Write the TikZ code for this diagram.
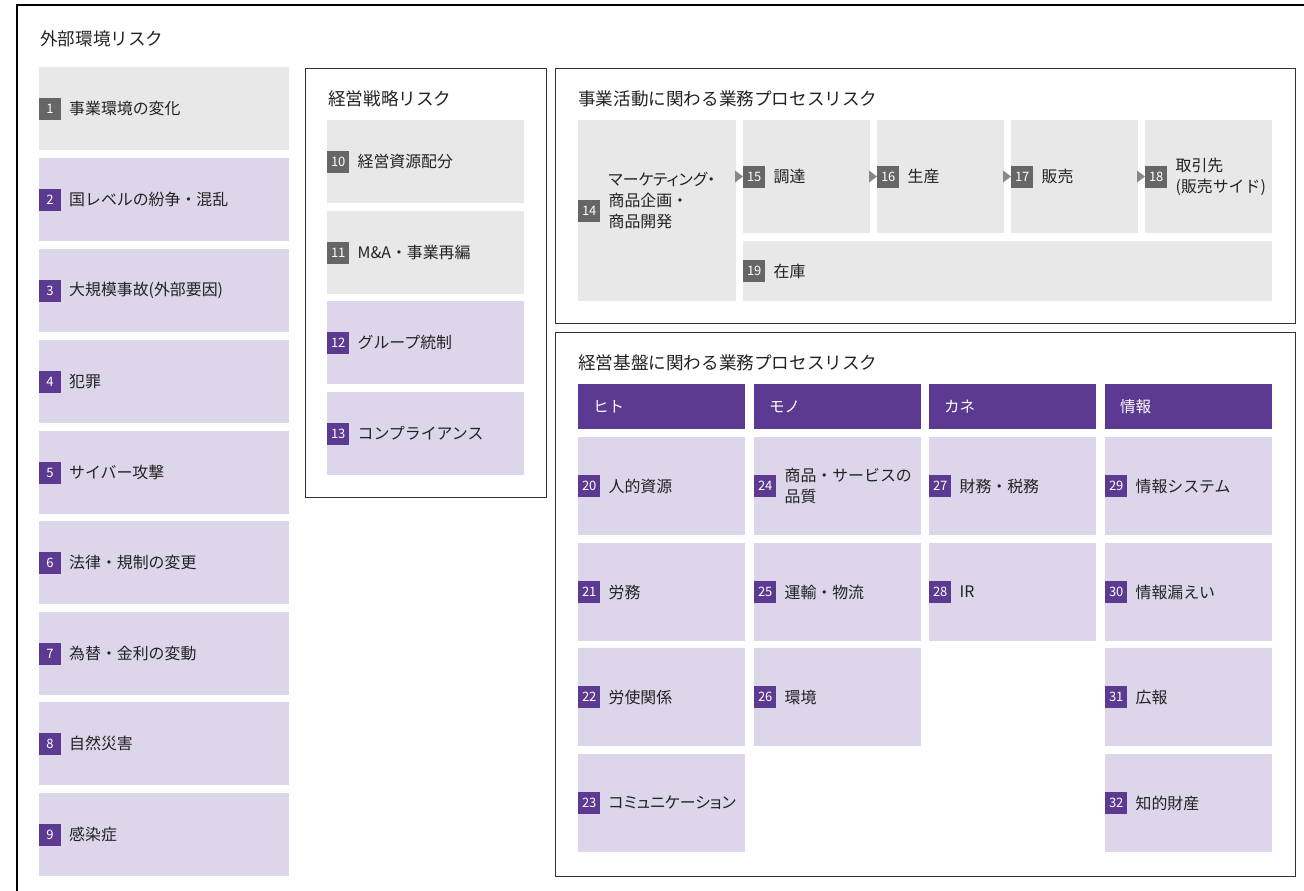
\documentclass[tikz,border=0pt]{standalone}
\usepackage{fontspec}
\setmainfont{Noto Sans CJK JP}
\usetikzlibrary{calc}
\definecolor{boxgray}{HTML}{E8E8E8}
\definecolor{lav}{HTML}{DDD5EA}
\definecolor{purp}{HTML}{5C3A92}
\definecolor{badgegray}{HTML}{666666}
\definecolor{txt}{HTML}{222222}
\definecolor{framecol}{HTML}{333333}
\definecolor{tricol}{HTML}{888888}
\tikzset{
  cell/.style={draw=none, inner sep=0pt, outer sep=0pt, anchor=north west},
  badge/.style={inner xsep=4pt, inner ysep=0pt, outer sep=0pt, minimum width=22pt, minimum height=22pt,
    text=white, font=\fontsize{13}{14}\selectfont, anchor=west},
  itemtext/.style={inner sep=0pt, text=txt, font=\fontsize{15.9}{21}\selectfont, anchor=west, align=left},
  grouptitle/.style={inner sep=0pt, text=txt, font=\fontsize{17.6}{20}\selectfont, anchor=west},
  groupframe/.style={draw=framecol, line width=1pt, inner sep=0pt, anchor=north west},
  header/.style={cell, fill=purp, minimum width=167pt, minimum height=45pt},
  headertext/.style={inner sep=0pt, text=white, font=\fontsize{15.5}{18}\selectfont, anchor=west},
  flowtri/.style={fill=tricol, draw=none},
}
% name, x, y, w, h, fill, badge colour, number, text
\newcommand\riskbox[9]{%
  \node[cell, fill=#6, minimum width=#4pt, minimum height=#5pt] (#1) at (#2,#3) {};
  \node[badge, fill=#7] (#1n) at (#1.west) {#8};
  \node[itemtext] (#1t) at ([xshift=8pt]#1n.east) {#9};
}
\begin{document}
\begin{tikzpicture}[x=1pt, y=-1pt]
\useasboundingbox (0,0) rectangle (1304,891);
% outer frame (clipped at right and bottom)
\coordinate (oBL) at (17,891);
\coordinate (oTL) at (17,5);
\coordinate (oTR) at (1304,5);
\draw[line width=1.2pt, black] (oBL) -- (oTL) -- (oTR);
\node[grouptitle] (t0) at (40,39) {外部環境リスク};

% left column
\riskbox{b1}{39}{67}{250}{83}{boxgray}{badgegray}{1}{事業環境の変化}
\riskbox{b2}{39}{158}{250}{83}{lav}{purp}{2}{国レベルの紛争・混乱}
\riskbox{b3}{39}{249}{250}{83}{lav}{purp}{3}{大規模事故(外部要因)}
\riskbox{b4}{39}{340}{250}{83}{lav}{purp}{4}{犯罪}
\riskbox{b5}{39}{431}{250}{83}{lav}{purp}{5}{サイバー攻撃}
\riskbox{b6}{39}{521}{250}{83}{lav}{purp}{6}{法律・規制の変更}
\riskbox{b7}{39}{612}{250}{83}{lav}{purp}{7}{為替・金利の変動}
\riskbox{b8}{39}{702}{250}{83}{lav}{purp}{8}{自然災害}
\riskbox{b9}{39}{793}{250}{83}{lav}{purp}{9}{感染症}

% strategy group
\node[groupframe, minimum width=241pt, minimum height=429pt] (g1) at (305,68) {};
\node[grouptitle] (t1) at (328,99) {経営戦略リスク};
\riskbox{b10}{327}{120}{197}{83}{boxgray}{badgegray}{10}{経営資源配分}
\riskbox{b11}{327}{211}{197}{83}{boxgray}{badgegray}{11}{M\&A・事業再編}
\riskbox{b12}{327}{301}{197}{83}{lav}{purp}{12}{グループ統制}
\riskbox{b13}{327}{392}{197}{83}{lav}{purp}{13}{コンプライアンス}

% business activity group
\node[groupframe, minimum width=740pt, minimum height=255pt] (g2) at (555,68) {};
\node[grouptitle] (t2) at (578,99) {事業活動に関わる業務プロセスリスク};
\node[cell, fill=boxgray, minimum width=158pt, minimum height=181pt] (b14) at (578,120) {};
\node[badge, fill=badgegray] (b14n) at (b14.west) {14};
\node[itemtext, yshift=10pt] (b14t) at ([xshift=8pt]b14n.east) {\addfontfeatures{RawFeature=+palt}マーケティング・\\商品企画・\\商品開発};
\riskbox{b15}{743}{120}{127}{113}{boxgray}{badgegray}{15}{調達}
\riskbox{b16}{877}{120}{127}{113}{boxgray}{badgegray}{16}{生産}
\riskbox{b17}{1011}{120}{127}{113}{boxgray}{badgegray}{17}{販売}
\riskbox{b18}{1145}{120}{127}{113}{boxgray}{badgegray}{18}{取引先\\(販売サイド)}
\riskbox{b19}{743}{241}{529}{60}{boxgray}{badgegray}{19}{在庫}
\foreach \n in {b15n,b16n,b17n,b18n}{
  \fill[flowtri] ([xshift=-8pt,yshift=6pt]\n.west) -- (\n.west) -- ([xshift=-8pt,yshift=-6pt]\n.west) -- cycle;
}

% management foundation group
\node[groupframe, minimum width=740pt, minimum height=544pt] (g3) at (555,332) {};
\node[grouptitle] (t3) at (578,363) {経営基盤に関わる業務プロセスリスク};
\node[header] (h1) at (578,384) {};
\node[header] (h2) at (754,384) {};
\node[header] (h3) at (929,384) {};
\node[header] (h4) at (1105,384) {};
\node[headertext] (h1t) at ([xshift=15pt]h1.west) {ヒト};
\node[headertext] (h2t) at ([xshift=15pt]h2.west) {モノ};
\node[headertext] (h3t) at ([xshift=15pt]h3.west) {カネ};
\node[headertext] (h4t) at ([xshift=15pt]h4.west) {情報};

\riskbox{b20}{578}{437}{167}{98}{lav}{purp}{20}{人的資源}
\riskbox{b21}{578}{543}{167}{98}{lav}{purp}{21}{労務}
\riskbox{b22}{578}{648}{167}{98}{lav}{purp}{22}{労使関係}
\riskbox{b23}{578}{754}{167}{98}{lav}{purp}{23}{\addfontfeatures{RawFeature=+palt}コミュニケーション}
\riskbox{b24}{754}{437}{167}{98}{lav}{purp}{24}{商品・サービスの\\品質}
\riskbox{b25}{754}{543}{167}{98}{lav}{purp}{25}{運輸・物流}
\riskbox{b26}{754}{648}{167}{98}{lav}{purp}{26}{環境}
\riskbox{b27}{929}{437}{167}{98}{lav}{purp}{27}{財務・税務}
\riskbox{b28}{929}{543}{167}{98}{lav}{purp}{28}{IR}
\riskbox{b29}{1105}{437}{167}{98}{lav}{purp}{29}{情報システム}
\riskbox{b30}{1105}{543}{167}{98}{lav}{purp}{30}{情報漏えい}
\riskbox{b31}{1105}{648}{167}{98}{lav}{purp}{31}{広報}
\riskbox{b32}{1105}{754}{167}{98}{lav}{purp}{32}{知的財産}
\end{tikzpicture}
\end{document}
